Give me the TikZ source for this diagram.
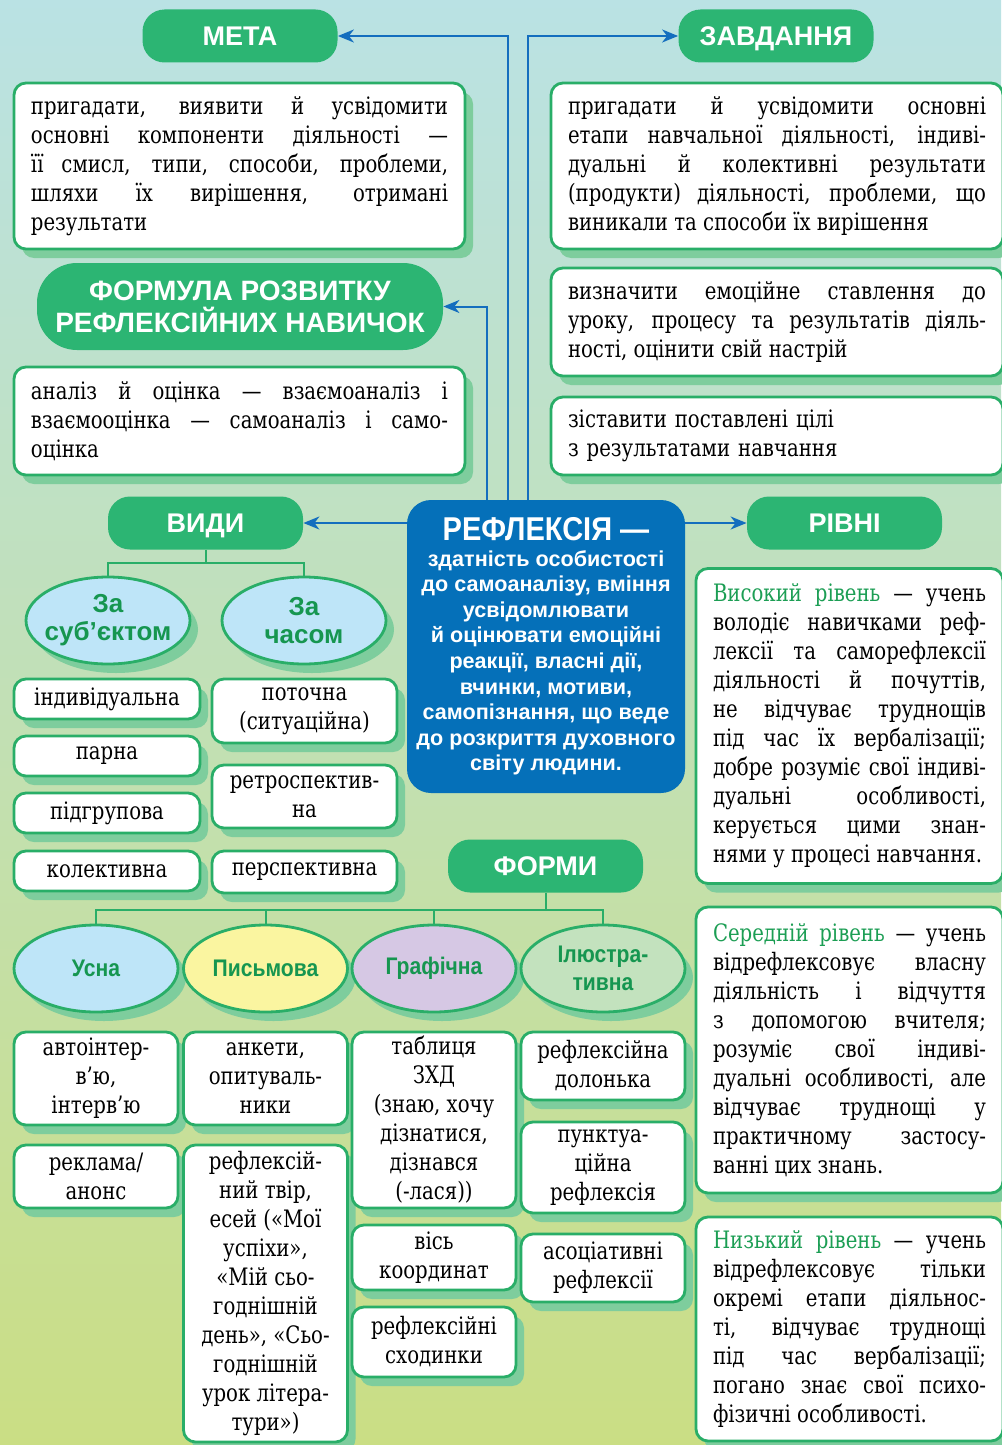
\documentclass[tikz,border=0pt]{standalone}
\usepackage{fontspec}
\setmainfont{DejaVu Serif}[FakeStretch=0.82]
\newfontfamily\hfont{Liberation Sans}
\newfontfamily\cfont{Liberation Sans}[FakeStretch=0.88]
\usetikzlibrary{arrows.meta,shapes.geometric,shadows}
\definecolor{bgtop}{RGB}{186,226,228}
\definecolor{bgmid}{RGB}{196,226,190}
\definecolor{bgbot}{RGB}{202,222,132}
\definecolor{pgreen}{RGB}{44,181,115}
\definecolor{bgreen}{RGB}{41,174,104}
\definecolor{shgreen}{RGB}{126,205,157}
\definecolor{cblue}{RGB}{5,112,185}
\definecolor{ablue}{RGB}{20,110,190}
\definecolor{lgreen}{RGB}{28,158,84}
\definecolor{egreen}{RGB}{22,150,80}
\definecolor{eblue}{RGB}{190,229,248}
\definecolor{eyell}{RGB}{250,245,160}
\definecolor{epurp}{RGB}{214,200,228}
\definecolor{egrn}{RGB}{195,226,190}
\hyphenpenalty=10000
\exhyphenpenalty=10000
\tolerance=10000
\begin{document}
\begin{tikzpicture}[x=0.5pt,y=-0.5pt,
  pill/.style={fill=pgreen, rounded corners=11pt, text=white, text depth=0pt,
    minimum width=97.5pt, minimum height=26.5pt, font=\hfont\bfseries\fontsize{13.5}{16}\selectfont},
  tbox/.style={draw=bgreen, line width=1.4pt, fill=white, rounded corners=6pt,
    inner xsep=8.5pt, inner ysep=4pt, align=justify, font=\fontsize{12}{14.5}\selectfont,
    drop shadow={shadow xshift=4pt, shadow yshift=-4.5pt, fill=shgreen, opacity=1}},
  sbox/.style={tbox, align=center, inner sep=2pt, minimum width=82pt},
  oval/.style={ellipse, draw=bgreen, line width=1.4pt, minimum width=82pt, minimum height=43.5pt,
    inner xsep=-6pt, inner ysep=0pt, text=egreen, align=center,
    drop shadow={shadow xshift=4pt, shadow yshift=-4.5pt, fill=shgreen, opacity=1}},
  cbox/.style={fill=cblue, rounded corners=12pt, text=white, align=center,
    minimum width=139pt, minimum height=146.5pt, font=\hfont\bfseries\fontsize{10.8}{12.8}\selectfont},
  arr/.style={draw=ablue, line width=1pt, -{Stealth[length=8pt,width=6.5pt,inset=2.5pt]}},
  tree/.style={draw=bgreen, line width=1pt}]
\useasboundingbox (0,0) rectangle (1001,1445);
\shade[top color=bgtop, middle color=bgmid, bottom color=bgbot] (0,0) rectangle (1001,1445);

% top
\node[pill] (meta) at (240,36) {МЕТА};
\node[pill] (zavd) at (776,36) {ЗАВДАННЯ};
\node[tbox, text width=208.5pt, minimum height=83pt] (metatxt) at (239.5,166) {пригадати, виявити й усвідомити\linebreak основні компоненти діяльності —\linebreak її смисл, типи, способи, проблеми,\linebreak шляхи їх вирішення, отримані\linebreak результати};
\node[pill, align=center, minimum width=203pt, minimum height=43.5pt, rounded corners=20pt, font=\hfont\bfseries\fontsize{14}{16}\selectfont] (formula) at (240,306.5) {ФОРМУЛА РОЗВИТКУ\\РЕФЛЕКСІЙНИХ НАВИЧОК};
\node[tbox, text width=208.5pt, minimum height=54pt] (formtxt) at (239.5,421) {аналіз й оцінка — взаємоаналіз і\linebreak взаємооцінка — самоаналіз і само-\linebreak оцінка};
\node[tbox, text width=209pt, minimum height=83pt] (zt1) at (777,166) {пригадати й усвідомити основні\linebreak етапи навчальної діяльності, індиві-\linebreak дуальні й колективні результати\linebreak (продукти) діяльності, проблеми, що\linebreak виникали та способи їх вирішення};
\node[tbox, text width=209pt, minimum height=54pt] (zt2) at (777,322) {визначити емоційне ставлення до\linebreak уроку, процесу та результатів діяль-\linebreak ності, оцінити свій настрій};
\node[tbox, text width=209pt, minimum height=39pt, align=left] (zt3) at (777,436) {зіставити поставлені цілі\\з результатами навчання};

% centre
\node[cbox] (refl) at (546,646.5) {{\cfont\fontsize{16.5}{19}\selectfont РЕФЛЕКСІЯ —}\\здатність особистості\\до самоаналізу, вміння\\усвідомлювати\\й оцінювати емоційні\\реакції, власні дії,\\вчинки, мотиви,\\самопізнання, що веде\\до розкриття духовного\\світу людини.};
\node[pill] (vydy) at (205.5,523) {ВИДИ};
\node[pill] (rivni) at (844.5,523) {РІВНІ};
\node[pill] (formy) at (545.5,866) {ФОРМИ};

\draw[arr] ([xshift=-19pt]refl.north) |- (meta);
\draw[arr] ([xshift=-9pt]refl.north) |- (zavd);
\draw[arr] ([xshift=-29.5pt]refl.north) |- (formula);
\draw[arr] (refl.west |- vydy) -- (vydy);
\draw[arr] (refl.east |- rivni) -- (rivni);

% levels
\node[tbox, text width=136.5pt, minimum height=157.5pt] (high) at (849.5,726) {\textcolor{lgreen}{Високий рівень} — учень\linebreak володіє навичками реф-\linebreak лексії та саморефлексії\linebreak діяльності й почуттів,\linebreak не відчуває труднощів\linebreak під час їх вербалізації;\linebreak добре розуміє свої індиві-\linebreak дуальні особливості,\linebreak керується цими знан-\linebreak нями у процесі навчання.};
\node[tbox, text width=136.5pt, minimum height=143pt] (mid) at (849.5,1050) {\textcolor{lgreen}{Середній рівень} — учень\linebreak відрефлексовує власну\linebreak діяльність і відчуття\linebreak з допомогою вчителя;\linebreak розуміє свої індиві-\linebreak дуальні особливості, але\linebreak відчуває труднощі у\linebreak практичному застосу-\linebreak ванні цих знань.};
\node[tbox, text width=136.5pt, minimum height=112pt] (low) at (849.5,1329) {\textcolor{lgreen}{Низький рівень} — учень\linebreak відрефлексовує тільки\linebreak окремі етапи діяльнос-\linebreak ті, відчуває труднощі\linebreak під час вербалізації;\linebreak погано знає свої психо-\linebreak фізичні особливості.};

% kinds
\node[oval, fill=eblue, font=\hfont\bfseries\fontsize{13}{14}\selectfont] (subj) at (108,620.5) {За\\суб’єктом};
\node[oval, fill=eblue, font=\hfont\bfseries\fontsize{13}{14}\selectfont] (time) at (304,620.5) {За\\часом};
\coordinate (vj) at (205.5,563);
\draw[tree] (vydy) -- (vj) (subj) |- (vj) -| (time);
\node[sbox, minimum width=93pt, minimum height=20pt] (indiv) at (107,699) {індивідуальна};
\node[sbox, minimum width=93pt, minimum height=20pt] (parna) at (107,756) {парна};
\node[sbox, minimum width=93pt, minimum height=20pt] (pidgr) at (107,813) {підгрупова};
\node[sbox, minimum width=93pt, minimum height=20pt] (kolekt) at (107,871) {колективна};
\node[sbox, minimum width=92.5pt, minimum height=32pt] (potoch) at (304.5,711) {поточна\\(ситуаційна)};
\node[sbox, minimum width=92.5pt, minimum height=31.5pt] (retro) at (304.5,796.5) {ретроспектив-\\на};
\node[sbox, minimum width=92.5pt, minimum height=21pt] (persp) at (304.5,872) {перспективна};

% forms
\node[oval, fill=eblue, font=\cfont\bfseries\fontsize{12}{14}\selectfont] (usna) at (96,968.5) {Усна};
\node[oval, fill=eyell, font=\cfont\bfseries\fontsize{12}{14}\selectfont] (pysm) at (265.5,968.5) {Письмова};
\node[oval, fill=epurp, font=\cfont\bfseries\fontsize{12}{14}\selectfont] (graf) at (434,968.5) {Графічна};
\node[oval, fill=egrn, font=\cfont\bfseries\fontsize{12}{14}\selectfont] (ilus) at (603,968.5) {Ілюстра-\\тивна};
\coordinate (fj) at (545.5,910);
\draw[tree] (formy) -- (fj) (usna) |- (fj) -| (ilus) (pysm) -- (pysm |- fj) (graf) -- (graf |- fj);
\node[sbox, minimum height=46.5pt] (avto) at (96,1078.5) {автоінтер-\\в’ю,\\інтерв’ю};
\node[sbox, minimum height=31.5pt] (rekl) at (96,1176.5) {реклама/\\анонс};
\node[sbox, minimum height=46.5pt] (anket) at (265.5,1078.5) {анкети,\\опитуваль-\\ники};
\node[sbox, minimum height=148.5pt] (tvir) at (265.5,1293.5) {рефлексій-\\ний твір,\\есей («Мої\\успіхи»,\\«Мій сьо-\\годнішній\\день», «Сьо-\\годнішній\\урок літера-\\тури»)};
\node[sbox, minimum height=88pt] (tabl) at (434,1120) {таблиця\\ЗХД\\(знаю, хочу\\дізнатися,\\дізнався\\(-лася))};
\node[sbox, minimum height=32.5pt] (vis) at (434,1257.5) {вісь\\координат};
\node[sbox, minimum height=35pt] (skhod) at (434,1342) {рефлексійні\\сходинки};
\node[sbox, minimum height=34pt] (dolon) at (603,1066) {рефлексійна\\долонька};
\node[sbox, minimum height=45.5pt] (punkt) at (603,1167.5) {пунктуа-\\ційна\\рефлексія};
\node[sbox, minimum height=34pt] (asoc) at (603,1268) {асоціативні\\рефлексії};
\end{tikzpicture}
\end{document}
